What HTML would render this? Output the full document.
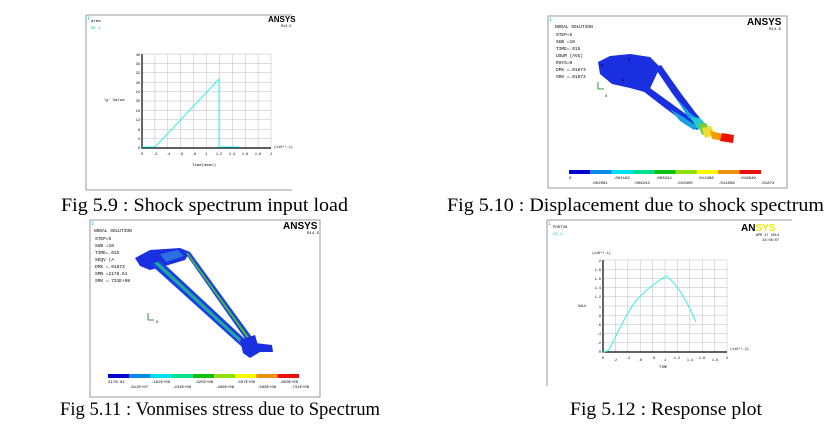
<!DOCTYPE html>
<html><head><style>html,body{margin:0;padding:0;background:#fff;}svg{display:block}</style></head>
<body>
<svg width="831" height="424" viewBox="0 0 831 424" xmlns="http://www.w3.org/2000/svg" font-family="Liberation Mono, monospace">
<!-- Panel 1 -->
<g>
<path d="M86 15 H292 M86 15 V190 H292" stroke="#999" stroke-width="1" fill="none"/>
<text x="87" y="20" font-size="5" fill="#0cc">1</text>
<text x="91" y="22" font-size="4" fill="#000">area</text>
<text x="91" y="29" font-size="4" fill="#0cc">RE   1</text>
<text x="268" y="22" font-size="8" font-weight="bold" font-family="Liberation Sans,sans-serif">ANSYS</text>
<text x="281" y="27" font-size="3.5">R14.5</text>
<g stroke="#bbb" stroke-width="0.5">
<path d="M142 54H271M142 63.4H271M142 72.8H271M142 82.2H271M142 91.6H271M142 101H271M142 110.4H271M142 119.8H271M142 129.2H271M142 138.6H271"/>
<path d="M154.9 54V148M167.8 54V148M180.7 54V148M193.6 54V148M206.5 54V148M219.4 54V148M232.3 54V148M245.2 54V148M258.1 54V148M271 54V148"/>
</g>
<path d="M142 54V148H271" stroke="#000" stroke-width="1.2" fill="none"/>
<polyline points="142,147 155,147 219,79 219,147 239,147" stroke="#3ee" stroke-width="1" fill="none"/>
<g font-size="3.5" text-anchor="end"><text x="140" y="56">40</text><text x="140" y="65">36</text><text x="140" y="74">32</text><text x="140" y="84">28</text><text x="140" y="93">24</text><text x="140" y="102">20</text><text x="140" y="112">16</text><text x="140" y="121">12</text><text x="140" y="131">8</text><text x="140" y="140">4</text><text x="140" y="149">0</text></g>
<text x="103" y="101" font-size="4">'g' Value</text>
<g font-size="3.5" text-anchor="middle"><text x="142" y="155">0</text><text x="155" y="155">.2</text><text x="168" y="155">.4</text><text x="181" y="155">.6</text><text x="194" y="155">.8</text><text x="206" y="155">1</text><text x="219" y="155">1.2</text><text x="232" y="155">1.4</text><text x="245" y="155">1.6</text><text x="258" y="155">1.8</text><text x="271" y="155">2</text></g>
<text x="274" y="148" font-size="3.5">(x10**-1)</text>
<text x="192" y="166" font-size="4">Time(msec)</text>
</g>
<!-- Panel 2 -->
<g>
<path d="M548 16H787V188H548Z" stroke="#999" stroke-width="1" fill="none"/>
<text x="549" y="21" font-size="5" fill="#0cc">1</text>
<text x="747" y="25" font-size="10" font-weight="bold" font-family="Liberation Sans,sans-serif">ANSYS</text>
<text x="769" y="30" font-size="4">R14.5</text>
<g font-size="4.5"><text x="555" y="28">NODAL SOLUTION</text><text x="556" y="36">STEP=5</text><text x="556" y="43">SUB =10</text><text x="556" y="50">TIME=.015</text><text x="556" y="57">USUM    (AVG)</text><text x="556" y="64">RSYS=0</text><text x="556" y="71">DMX =.01873</text><text x="556" y="78">SMX =.01873</text></g>
<path d="M598 89v-7M598 89h6" stroke="#070" stroke-width="0.8" fill="none"/><text x="605" y="97" font-size="4">X</text>
<polygon points="598,62 610,56 630,54 650,57 660,67 654,80 648,93 630,88 612,84 600,74" fill="#1a2fe0"/>
<polygon points="655,68 661,65 680,92 695,112 705,124 700,127 688,115 672,93" fill="#1a2fe0"/>
<polygon points="643,91 650,88 672,104 690,117 701,125 697,130 684,122 665,108" fill="#1a2fe0"/>
<polygon points="675,97 690,113 705,124 700,127 688,117" fill="#19a0e0"/>
<polygon points="670,109 685,118 698,127 694,130 680,121" fill="#19a0e0"/>
<polygon points="690,117 700,118 706,126 698,130" fill="#2cc"/>
<polygon points="698,124 706,123 711,132 702,135" fill="#7c3"/>
<polygon points="702,128 711,126 715,135 705,138" fill="#ed3"/>
<polygon points="710,131 728,135 730,142 712,139" fill="#f90"/>
<polygon points="722,133 734,135 733,143 720,141" fill="#e10"/>
<circle cx="602" cy="65" r="0.8"/><circle cx="629" cy="59" r="0.8"/><circle cx="623" cy="80" r="0.8"/>
<g>
<rect x="569" y="170" width="21.3" height="4" fill="#0000d0"/><rect x="590.3" y="170" width="21.3" height="4" fill="#0a8ae8"/><rect x="611.6" y="170" width="21.3" height="4" fill="#00e0f0"/><rect x="632.9" y="170" width="21.3" height="4" fill="#00e090"/><rect x="654.2" y="170" width="21.3" height="4" fill="#10c010"/><rect x="675.5" y="170" width="21.3" height="4" fill="#90e010"/><rect x="696.8" y="170" width="21.3" height="4" fill="#f8f800"/><rect x="718.1" y="170" width="21.3" height="4" fill="#f09010"/><rect x="739.4" y="170" width="21.6" height="4" fill="#e81010"/>
</g>
<g font-size="4"><text x="569" y="179">0</text><text x="613" y="179">.004162</text><text x="655" y="179">.008324</text><text x="697" y="179">.012486</text><text x="739" y="179">.016649</text><text x="591" y="184">.002081</text><text x="633" y="184">.006243</text><text x="676" y="184">.010405</text><text x="718" y="184">.014568</text><text x="760" y="184">.01873</text></g>
</g>
<!-- Panel 3 -->
<g>
<path d="M90 220H320V397H90Z" stroke="#999" stroke-width="1" fill="none"/>
<text x="91" y="225" font-size="5" fill="#0cc">1</text>
<text x="283" y="229" font-size="10" font-weight="bold" font-family="Liberation Sans,sans-serif">ANSYS</text>
<text x="307" y="234" font-size="4">R14.5</text>
<g font-size="4.5"><text x="94" y="232">NODAL SOLUTION</text><text x="95" y="240">STEP=5</text><text x="95" y="247">SUB =10</text><text x="95" y="254">TIME=.015</text><text x="95" y="261">SEQV      (A</text><text x="95" y="268">DMX =.01873</text><text x="95" y="275">SMN =2178.61</text><text x="95" y="282">SMX =.731E+08</text></g>
<path d="M148 320v-7M148 320h6" stroke="#070" stroke-width="0.8" fill="none"/><text x="156" y="323" font-size="4">X</text>
<polygon points="135,258 150,250 180,248 190,252 185,260 165,266 150,270 140,266" fill="#1a2fe0"/>
<polygon points="160,254 178,250 184,256 166,262" fill="#2a70e0"/>
<polygon points="150,264 160,260 248,342 242,347" fill="#1a3fe8"/>
<polygon points="183,250 190,252 254,340 248,343" fill="#1a3fe8"/>
<polygon points="154,263 158,262 245,343 243,345" fill="#2a9"/>
<polygon points="186,253 188,253 251,340 249,341" fill="#4b3"/>
<polygon points="240,340 255,335 260,352 250,358 243,353" fill="#1a2fe0"/>
<polygon points="255,343 272,345 273,352 257,352" fill="#1a2fe0"/>
<g>
<rect x="108" y="374" width="21.2" height="4" fill="#0000d0"/><rect x="129.2" y="374" width="21.2" height="4" fill="#0a8ae8"/><rect x="150.4" y="374" width="21.2" height="4" fill="#00e0f0"/><rect x="171.6" y="374" width="21.2" height="4" fill="#00e090"/><rect x="192.8" y="374" width="21.2" height="4" fill="#10c010"/><rect x="214" y="374" width="21.2" height="4" fill="#90e010"/><rect x="235.2" y="374" width="21.2" height="4" fill="#f8f800"/><rect x="256.4" y="374" width="21.2" height="4" fill="#f09010"/><rect x="277.6" y="374" width="21.4" height="4" fill="#e81010"/>
</g>
<g font-size="4"><text x="108" y="383">2178.61</text><text x="151" y="383">.162E+08</text><text x="194" y="383">.325E+08</text><text x="236" y="383">.487E+08</text><text x="279" y="383">.650E+08</text><text x="129" y="388">.812E+07</text><text x="172" y="388">.244E+08</text><text x="215" y="388">.406E+08</text><text x="257" y="388">.568E+08</text><text x="290" y="388">.731E+08</text></g>
</g>
<!-- Panel 4 -->
<g>
<path d="M547 220H792M547 220V386" stroke="#999" stroke-width="1" fill="none"/>
<text x="548" y="225" font-size="5" fill="#0cc">1</text>
<text x="553" y="228" font-size="4">POST26</text>
<text x="553" y="235" font-size="4" fill="#0cc">VS_2</text>
<text x="741" y="231" font-size="10" font-weight="bold" font-family="Liberation Sans,sans-serif">AN<tspan fill="#ee0">SYS</tspan></text>
<text x="779" y="236" font-size="3.5" text-anchor="end">APR 27 2014</text><text x="779" y="241" font-size="3.5" text-anchor="end">23:08:07</text>
<g stroke="#bbb" stroke-width="0.5">
<path d="M603 260H727M603 269.2H727M603 278.4H727M603 287.6H727M603 296.8H727M603 306H727M603 315.2H727M603 324.4H727M603 333.6H727M603 342.8H727"/>
<path d="M615.4 260V352M627.8 260V352M640.2 260V352M652.6 260V352M665 260V352M677.4 260V352M689.8 260V352M702.2 260V352M714.6 260V352M727 260V352"/>
</g>
<path d="M603 260V352H727" stroke="#000" stroke-width="1.2" fill="none"/>
<path d="M603 352 L608 351 C615 340 622 320 635 302 C645 290 655 283 666 276 C676 282 688 303 696 322" stroke="#3ee" stroke-width="1" fill="none"/>
<text x="592" y="254" font-size="3.5">(x10**-1)</text>
<text x="578" y="307" font-size="3.5">VALU</text>
<g font-size="3.5" text-anchor="end"><text x="601" y="262">2</text><text x="601" y="271">1.8</text><text x="601" y="280">1.6</text><text x="601" y="289">1.4</text><text x="601" y="298">1.2</text><text x="601" y="308">1</text><text x="601" y="317">.8</text><text x="601" y="326">.6</text><text x="601" y="335">.4</text><text x="601" y="344">.2</text><text x="601" y="353">0</text></g>
<g font-size="3.5" text-anchor="middle"><text x="603" y="359">0</text><text x="615" y="361">.2</text><text x="628" y="359">.4</text><text x="640" y="361">.6</text><text x="653" y="359">.8</text><text x="665" y="361">1</text><text x="677" y="359">1.2</text><text x="690" y="361">1.4</text><text x="702" y="359">1.6</text><text x="715" y="361">1.8</text><text x="727" y="359">2</text></g>
<text x="730" y="350" font-size="3.5">(x10**-2)</text>
<text x="659" y="368" font-size="3.5">TIME</text>
</g>
<!-- captions -->
<g font-family="Liberation Serif, serif" font-size="19" fill="#000">
<text x="61" y="211" textLength="287" lengthAdjust="spacingAndGlyphs">Fig 5.9 : Shock spectrum input load</text>
<text x="447" y="211" textLength="377" lengthAdjust="spacingAndGlyphs">Fig 5.10 : Displacement due to shock spectrum</text>
<text x="60" y="415" textLength="320" lengthAdjust="spacingAndGlyphs">Fig 5.11 : Vonmises stress due to Spectrum</text>
<text x="570" y="415" textLength="192" lengthAdjust="spacingAndGlyphs">Fig 5.12 : Response plot</text>
</g>
</svg>
</body></html>
